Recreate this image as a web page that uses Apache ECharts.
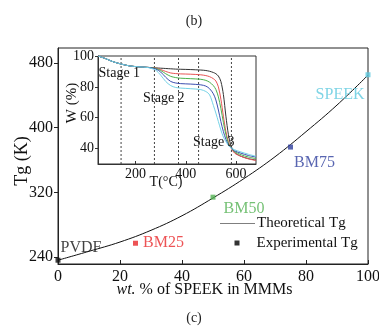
<!DOCTYPE html>
<html><head><meta charset="utf-8">
<script src="https://cdn.jsdelivr.net/npm/echarts@6/dist/echarts.min.js"></script>
<style>html,body{margin:0;padding:0;background:#fff}#c{width:379px;height:327px}</style>
</head><body><div id="c"></div>
<script>
// ---- Main chart data ----
const wtPct = [0, 10, 20, 30, 40, 50, 60, 70, 80, 90, 100];
const theoreticalTg = [236, 247, 258.5, 273, 291, 313, 337, 364, 395, 428, 465];
const sampleNames = ['PVDF', 'BM25', 'BM50', 'BM75', 'SPEEK'];
const sampleWt = [0, 25, 50, 75, 100];
const sampleTg = [236, 257, 314, 376, 465.5];
const xTicks = [0, 20, 40, 60, 80, 100];
const yTicks = [240, 320, 400, 480];

// ---- Inset (TGA) data ----
const tgaTemp = [50, 80, 110, 142, 175, 210, 250, 280, 300, 320, 340, 360, 380, 420, 460, 480, 495, 510, 520, 530, 540, 550, 560, 570, 580, 595, 620, 650, 680];
const tgaBlack = [100, 98.3, 96.3, 94.8, 93.6, 93, 92.6, 92.3, 92.1, 91.9, 91.7, 91.5, 91.4, 91.2, 90.9, 90.6, 90.1, 89.3, 88.5, 87, 83.5, 75, 61, 49, 42, 37.5, 35, 33.5, 32.5];
const tgaRed   = [100, 98.3, 96.3, 94.8, 93.6, 93, 92.6, 92.2, 91.2, 90, 89, 88.6, 88.4, 88.2, 87.8, 87.3, 86.6, 85.3, 83.8, 80, 72, 61, 51, 44.5, 40.5, 37, 35, 33.3, 32.3];
const tgaGreen = [100, 98.3, 96.3, 94.8, 93.6, 93, 92.6, 92, 90.6, 88.5, 86.8, 86, 85.6, 85.3, 84.9, 84.2, 83, 80.8, 78.3, 73.5, 66, 57, 49, 43.5, 40.5, 38, 36, 34.5, 33.5];
const tgaBlue  = [100, 98.3, 96.3, 94.8, 93.6, 93, 92.6, 91.6, 89.6, 86.2, 83.5, 82.5, 82.1, 81.8, 81.3, 80.5, 78.8, 75.5, 71.5, 65, 57.5, 51, 46, 42.5, 40.5, 38.5, 37, 35.5, 34.5];
const tgaCyan  = [100, 98.3, 96.3, 94.8, 93.6, 93, 92.5, 90.8, 87.6, 83.5, 80.8, 79.6, 79.2, 78.8, 78.2, 77, 74.8, 68, 63, 57.5, 52, 47.5, 44.5, 42, 40.5, 39.2, 37.8, 36.3, 35];
const stageLines = [142, 275, 371, 451, 582];
const insetXTicks = [200, 400, 600];
const insetYTicks = [40, 60, 80, 100];
const insetYRange = [30, 100];

// ---- Styles ----
const FONT = 'Liberation Serif';
const sampleColors = ['#111111', '#e8282b', '#52b152', '#2e3f9e', '#5ec9de'];
const labelPlacement = [
  {position: 'right', distance: 0, offset: [0, -12]},
  {position: 'right', distance: 5, offset: [0, 0]},
  {position: 'right', distance: 8, offset: [0, 12]},
  {position: 'right', distance: 1, offset: [0, 16]},
  {position: 'left', distance: 1, offset: [0, 20]}
];
const tgaSeries = [
  {name: 'black', data: tgaBlack, color: '#333333'},
  {name: 'red', data: tgaRed, color: '#e85555'},
  {name: 'green', data: tgaGreen, color: '#4cb04c'},
  {name: 'blue', data: tgaBlue, color: '#3c4fb0'},
  {name: 'cyan', data: tgaCyan, color: '#74d2e6'}
];

const chart = echarts.init(document.getElementById('c'), null, {renderer: 'canvas'});

const series = [
  {
    name: 'Theoretical Tg', type: 'line', xAxisIndex: 0, yAxisIndex: 0,
    data: wtPct.map((x, i) => [x, theoreticalTg[i]]),
    smooth: 0.4, symbol: 'none', lineStyle: {color: '#111', width: 1}, itemStyle: {color: '#111'}, z: 3
  },
  {
    name: 'Experimental Tg', type: 'scatter', xAxisIndex: 0, yAxisIndex: 0,
    symbol: 'rect', symbolSize: 5, itemStyle: {color: '#000'}, z: 4,
    data: sampleNames.map((n, i) => ({
      name: n, value: [sampleWt[i], sampleTg[i]],
      itemStyle: {color: sampleColors[i]},
      label: Object.assign({show: true, formatter: n, color: sampleColors[i], fontSize: 16, fontFamily: FONT}, labelPlacement[i])
    }))
  }
];
// Dashed stage boundaries as vertical line series in the inset
stageLines.forEach((v, k) => {
  series.push({
    name: 'stage-' + k, type: 'line', xAxisIndex: 1, yAxisIndex: 1,
    data: [[v, insetYRange[0]], [v, insetYRange[1]]],
    symbol: 'none', silent: true, z: 4,
    lineStyle: {color: '#444', type: [2, 2], width: 1}
  });
});
tgaSeries.forEach(s => {
  series.push({
    name: 'TGA-' + s.name, type: 'line', xAxisIndex: 1, yAxisIndex: 1,
    data: tgaTemp.map((t, i) => [t, s.data[i]]),
    smooth: 0.3, symbol: 'none', lineStyle: {color: s.color, width: 1}, z: 5
  });
});

const option = {
  animation: false,
  backgroundColor: '#fff',
  textStyle: {fontFamily: FONT},
  grid: [
    {left: 58, right: 11, top: 48, bottom: 63, show: true, borderColor: '#222', borderWidth: 1, outerBoundsMode: 'none'},
    {left: 98, top: 56, width: 158, height: 108, show: true, borderColor: '#333', borderWidth: 1, backgroundColor: '#fff', outerBoundsMode: 'none'}
  ],
  legend: [
    {data: [{name: 'Theoretical Tg', icon: 'path://M0,0H100V2H0Z'}], left: 220, top: 216, itemWidth: 35, itemHeight: 1, padding: 0,
     itemStyle: {color: '#000'},
     textStyle: {fontSize: 15, fontFamily: FONT, color: '#111', padding: [0, 0, 0, -3]}},
    {data: [{name: 'Experimental Tg', icon: 'rect'}], left: 234.5, top: 235.5, itemWidth: 5, itemHeight: 5, padding: 0,
     textStyle: {fontSize: 15, fontFamily: FONT, color: '#111', padding: [0, 0, 0, 12]}}
  ],
  xAxis: [
    {type: 'value', gridIndex: 0, min: 0, max: 100, interval: 20,
     name: '{i|wt.} % of SPEEK in MMMs', nameLocation: 'middle', nameGap: 18, nameMoveOverlap: false,
     nameTextStyle: {fontSize: 16, color: '#111', fontFamily: FONT, padding: [0, 17, 0, 0],
       rich: {i: {fontStyle: 'italic', fontSize: 16, fontFamily: FONT, color: '#111'}}},
     axisLine: {lineStyle: {color: '#222', width: 1}},
     axisTick: {inside: true, length: 4, lineStyle: {color: '#222'}, customValues: xTicks},
     axisLabel: {fontSize: 16, color: '#111', margin: 5, fontFamily: FONT, customValues: xTicks},
     splitLine: {show: false}},
    {type: 'value', gridIndex: 1, min: 50, max: 680,
     axisLine: {lineStyle: {color: '#333', width: 1}},
     axisTick: {inside: true, length: 3, lineStyle: {color: '#333'}, customValues: insetXTicks},
     axisLabel: {fontSize: 14, color: '#111', margin: 3, fontFamily: FONT, customValues: insetXTicks},
     splitLine: {show: false}}
  ],
  yAxis: [
    {type: 'value', gridIndex: 0, min: 231.3, max: 498.6,
     name: 'Tg (K)', nameLocation: 'middle', nameGap: 27, nameMoveOverlap: false,
     nameTextStyle: {fontSize: 18, color: '#111', fontFamily: FONT, padding: [0, 10, 0, 0]},
     axisLine: {lineStyle: {color: '#222', width: 1}},
     axisTick: {inside: false, length: 4, lineStyle: {color: '#222'}, customValues: yTicks},
     axisLabel: {fontSize: 16, color: '#111', margin: 5, fontFamily: FONT, customValues: yTicks},
     splitLine: {show: false}},
    {type: 'value', gridIndex: 1, min: insetYRange[0], max: insetYRange[1],
     axisLine: {lineStyle: {color: '#333', width: 1}},
     axisTick: {inside: false, length: 3, lineStyle: {color: '#333'}, customValues: insetYTicks},
     axisLabel: {fontSize: 14, color: '#111', margin: 4, fontFamily: FONT, customValues: insetYTicks},
     splitLine: {show: false}}
  ],
  graphic: [
    {type: 'text', x: 194, y: 21, z: 100, style: {text: '(b)', font: '14px "Liberation Serif"', fill: '#222', align: 'center', verticalAlign: 'middle'}},
    {type: 'text', x: 194, y: 318, z: 100, style: {text: '(c)', font: '14px "Liberation Serif"', fill: '#222', align: 'center', verticalAlign: 'middle'}},
    {type: 'text', x: 98.5, y: 73, z: 100, style: {text: 'Stage 1', font: '14px "Liberation Serif"', fill: '#111', align: 'left', verticalAlign: 'middle'}},
    {type: 'text', x: 143, y: 98, z: 100, style: {text: 'Stage 2', font: '14px "Liberation Serif"', fill: '#111', align: 'left', verticalAlign: 'middle'}},
    {type: 'text', x: 193, y: 142, z: 100, style: {text: 'Stage 3', font: '14px "Liberation Serif"', fill: '#111', align: 'left', verticalAlign: 'middle'}},
    {type: 'text', x: 72, y: 103, rotation: Math.PI / 2, z: 100, style: {text: 'W (%)', font: '15px "Liberation Serif"', fill: '#111', align: 'center', verticalAlign: 'middle'}},
    {type: 'text', x: 166, y: 182, z: 100, style: {text: 'T(\u00B0C)', font: '14px "Liberation Serif"', fill: '#111', align: 'center', verticalAlign: 'middle'}}
  ],
  series: series
};
chart.setOption(option);
</script>
</body></html>
